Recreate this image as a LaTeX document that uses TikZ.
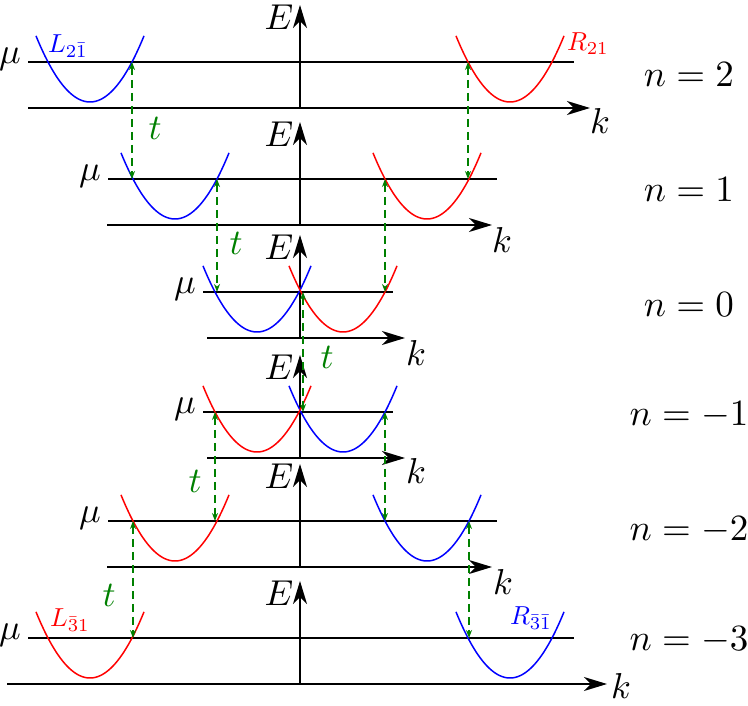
\documentclass[tikz,border=0pt]{standalone}
\usetikzlibrary{arrows.meta}
\definecolor{tgreen}{rgb}{0,0.5,0}
\newcommand{\lblbig}[1]{\scalebox{3.6}{$#1$}}
\newcommand{\lbln}[1]{\scalebox{3.7}{$#1$}}
\newcommand{\lblc}[1]{\scalebox{2.6}{$#1$}}
\tikzset{
  axisline/.style={line width=1.6pt,black},
  axisarrow/.style={line width=1.6pt,black,-{Stealth[length=23pt,width=14pt,inset=7pt]}},
  band/.style={line width=1.5pt},
  hop/.style={line width=1.5pt,tgreen,dash pattern=on 8pt off 5pt,{Stealth[length=8pt,width=6pt]}-{Stealth[length=8pt,width=6pt]}},
  lab/.style={inner sep=1pt},
  tlab/.style={inner sep=1pt,text=tgreen}
}
\begin{document}
\begin{tikzpicture}[x=1pt,y=-1pt]
\useasboundingbox (0,0) rectangle (748,706);
\foreach \i/\ky/\kl/\kr/\ml/\mr/\bx/\rx/\nt/\ny/\kx/\kyy in {
  1/108/28/590/28/574/90/510/2/75/600/121,
  2/225/107/492/108/497/175/427/1/190/502/240,
  3/338/207/405/203/393/257/343/0/305/416/353,
  4/458/207/405/203/393/343/257/-1/415/416/471,
  5/567/107/492/108/497/427/175/-2/530/503/582,
  6/684/7/607/28/574/510/90/-3/640/621/686}{
  % axes
  \coordinate (kS\i) at (\kl,\ky);
  \coordinate (kE\i) at (\kr,\ky);
  \coordinate (eS\i) at (300,\ky);
  \coordinate (eE\i) at (300,\ky-103);
  \coordinate (mS\i) at (\ml,\ky-46);
  \coordinate (mE\i) at (\mr,\ky-46);
  \draw[axisarrow] (kS\i) -- (kE\i);
  \draw[axisarrow] (eS\i) -- (eE\i);
  \draw[axisline] (mS\i) -- (mE\i);
  \node[lab,anchor=east] (mu\i) at ([xshift=-6pt,yshift=3pt]mS\i) {\lblbig{\mu}};
  \node[lab] (E\i) at (279,\ky-91) {\lblbig{E}};
  \node[lab] (k\i) at (\kx,\kyy) {\lblbig{k}};
  \node[lab] (n\i) at (689,\ny) {\lbln{n=\nt}};
  % bands
  \draw[band,blue] plot[domain=-54:54,samples=50] ({\bx+\x},{\ky-6-0.022676*\x*\x});
  \draw[band,red] plot[domain=-54:54,samples=50] ({\rx+\x},{\ky-6-0.022676*\x*\x});
  % Fermi crossings
  \coordinate (bL\i) at (\bx-42,\ky-46);
  \coordinate (bR\i) at (\bx+42,\ky-46);
  \coordinate (rL\i) at (\rx-42,\ky-46);
  \coordinate (rR\i) at (\rx+42,\ky-46);
}
\coordinate (c3) at (303,292);
\coordinate (c4) at (303,412);
% hopping arrows
\draw[hop] (bR1) -- (bR1 |- bL2);
\draw[hop] (rL1) -- (rL1 |- rR2);
\draw[hop] (bR2) -- (bR2 |- bL3);
\draw[hop] (rL2) -- (rL2 |- rR3);
\draw[hop] (c3) -- (c4);
\draw[hop] (rL4) -- (rL4 |- rR5);
\draw[hop] (bR4) -- (bR4 |- bL5);
\draw[hop] (rL5) -- (rL5 |- rR6);
\draw[hop] (bR5) -- (bR5 |- bL6);
% t labels
\node[tlab] (t1) at (155,128) {\lblbig{t}};
\node[tlab] (t2) at (236,243) {\lblbig{t}};
\node[tlab] (t3) at (327,357) {\lblbig{t}};
\node[tlab] (t4) at (195,481) {\lblbig{t}};
\node[tlab] (t5) at (109,595) {\lblbig{t}};
% band labels
\node[lab,text=blue] (L1) at (68,46) {\lblc{L_{2\bar{1}}}};
\node[lab,text=red] (R1) at (588,44) {\lblc{R_{21}}};
\node[lab,text=red] (L6) at (70,620) {\lblc{L_{\bar{3}1}}};
\node[lab,text=blue] (R6) at (531,618) {\lblc{R_{\bar{3}\bar{1}}}};
\end{tikzpicture}
\end{document}
